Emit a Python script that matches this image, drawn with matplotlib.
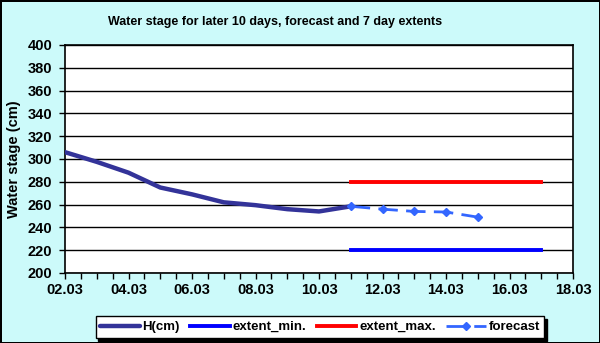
import numpy as np
import matplotlib
matplotlib.use("Agg")
import matplotlib.pyplot as plt

plt.rcParams['font.family'] = ['Liberation Sans', 'DejaVu Sans']

# observed stage, days of March
h_days = [2, 3, 4, 5, 6, 7, 8, 9, 10, 11]
h_cm = [306, 297.5, 288, 275, 269, 262, 259.5, 256, 254, 258.5]

# 7 day extents
ext_days = [11, 17]
ext_min = [220, 220]
ext_max = [280, 280]

# forecast
fc_days = [11, 12, 13, 14, 15]
fc_cm = [258.5, 256, 254, 253.5, 249]

x_labels = [2, 4, 6, 8, 10, 12, 14, 16, 18]

fig = plt.figure(figsize=(6, 3.43), dpi=100)
fig.patch.set_facecolor('#CCFAFA')
fig.patch.set_edgecolor('black')
fig.patch.set_linewidth(2)

ax = fig.add_axes([65/600, 70/343, 508/600, 228/343])
ax.set_facecolor('white')

ax.plot(h_days, h_cm, color='#333399', lw=3.2, label='H(cm)', solid_capstyle='round', zorder=3)
ax.plot(ext_days, ext_min, color='#0000FF', lw=2.8, label='extent_min.', zorder=3)
ax.plot(ext_days, ext_max, color='#FF0000', lw=2.8, label='extent_max.', zorder=3)
ax.plot(fc_days, fc_cm, color='#3366FF', lw=2, ls=(0, (7, 3)), marker='D', ms=4,
        label='forecast', zorder=4)

ax.set_xlim(2, 18)
ax.set_ylim(200, 400)
ax.set_yticks(np.arange(200, 401, 20))
ticks = np.arange(2, 18.01, 0.5)
ax.set_xticks(ticks)
ax.set_xticklabels(['%02d.03' % d if d in x_labels else '' for d in ticks])
ax.grid(axis='y', color='black', lw=1)
ax.set_axisbelow(True)
for s in ax.spines.values():
    s.set_linewidth(1.2)
ax.tick_params(direction='out', length=4, width=1, labelsize=10.5)
ax.tick_params(axis='y', pad=5)
ax.tick_params(axis='x', pad=3)
for lab in ax.get_xticklabels() + ax.get_yticklabels():
    lab.set_fontweight('bold')

ax.set_ylabel('Water stage (cm)', fontsize=10.5, fontweight='bold', labelpad=5)
fig.text(275/600, 1 - 22/343, 'Water stage for later 10 days, forecast and 7 day extents',
         ha='center', va='center', fontsize=9, fontweight='bold')

leg = fig.legend(loc='center', bbox_to_anchor=(320/600, 16/343), ncol=4,
                 frameon=True, fancybox=False, shadow={'color': 'black', 'alpha': 1},
                 prop={'size': 9.5, 'weight': 'bold'}, handlelength=3.0,
                 columnspacing=0.8, handletextpad=0.2, borderpad=0.35)
leg.get_frame().set_edgecolor('black')
leg.get_frame().set_linewidth(1)
leg.get_frame().set_alpha(1)

fig.savefig('out.png', dpi=100, facecolor=fig.get_facecolor(), edgecolor=fig.get_edgecolor())
